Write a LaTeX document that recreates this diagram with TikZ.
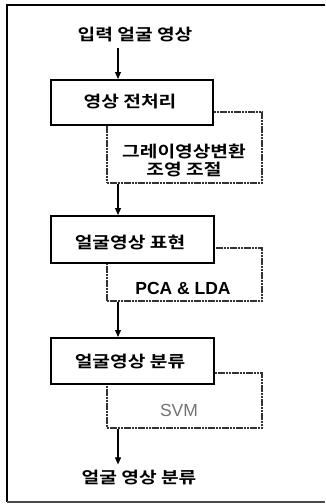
\documentclass[tikz,border=0pt]{standalone}
\usepackage{fontspec}
\setmainfont{Liberation Sans}
\newfontfamily\korb{Noto Sans CJK KR Bold}
\usetikzlibrary{arrows.meta,calc}
\begin{document}
\begin{tikzpicture}[x=1pt,y=-1pt,
  mainbox/.style={draw=black,line width=1.7pt,fill=white,rectangle,anchor=north west,inner sep=0pt},
  subbox/.style={draw=black!80,line width=1.5pt,dash pattern=on 2.2pt off 0.6pt,rectangle,anchor=north west,inner sep=0pt},
  ktext/.style={font=\korb\fontsize{16}{19}\selectfont,inner sep=0pt,align=center,xscale=1.2},
  ltext/.style={font=\bfseries\fontsize{17.5}{19}\selectfont,inner sep=0pt},
  flow/.style={line width=1.1pt,-{Triangle[width=6pt,length=7pt]}}
]
\useasboundingbox (0,0) rectangle (325,504);
% frame
\draw[line width=1.6pt] (325,5) -- (7,5) -- (7,502);
\draw[line width=1.6pt,black!70] (7,502) -- (325,502);
% arrow column
\coordinate (ax) at (118,0);
% title
\node[ktext] (in) at (135,35) {입력 얼굴 영상};
% stage 1
\node[subbox,minimum width=155pt,minimum height=71pt] (s1) at (106,111) {};
\node[mainbox,minimum width=162pt,minimum height=45pt] (b1) at (50,79) {};
\node[ktext] (b1t) at (130,102) {영상 전처리};
\node[ktext] (s1t) at (184,160) {그레이영상변환\\[-1pt]조영 조절};
% stage 2
\node[subbox,minimum width=155pt,minimum height=53pt] (s2) at (106,247) {};
\node[mainbox,minimum width=163pt,minimum height=47pt] (b2) at (50,215) {};
\node[ktext] (b2t) at (130,242) {얼굴영상 표현};
\node[ltext] (s2t) at (183,288) {PCA \& LDA};
% stage 3
\node[subbox,minimum width=155pt,minimum height=55pt] (s3) at (106,372) {};
\node[mainbox,minimum width=163pt,minimum height=46pt] (b3) at (50,337) {};
\node[ktext] (b3t) at (130,362) {얼굴영상 분류};
\node[font=\fontsize{17.5}{19}\selectfont,text=black!55,inner sep=0pt] (s3t) at (179,410) {SVM};
% output
\node[ktext] (out) at (139,478) {얼굴 영상 분류};
% connectors
\draw[flow] ($(in.south -| ax)+(0,5)$) -- (b1.north -| ax);
\draw[flow] (s1.south -| ax) -- (b2.north -| ax);
\draw[flow] (s2.south -| ax) -- (b3.north -| ax);
\draw[flow] (s3.south -| ax) -- ($(out.north -| ax)+(0,-6)$);
\end{tikzpicture}
\end{document}
